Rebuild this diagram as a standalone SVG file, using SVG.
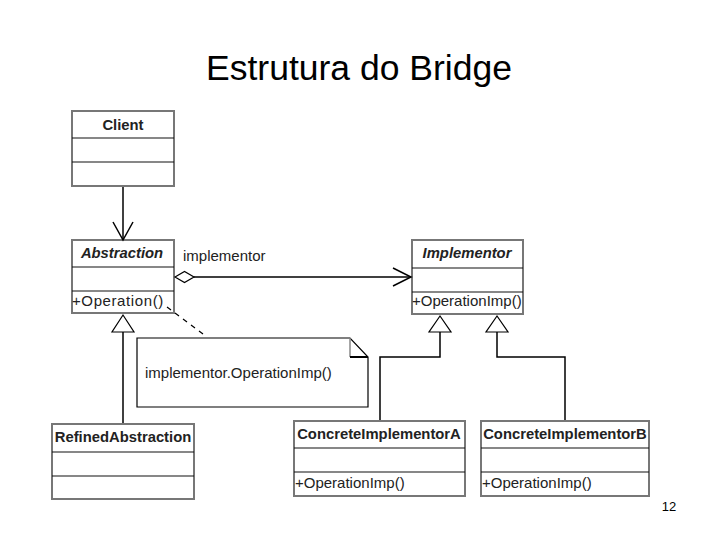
<svg xmlns="http://www.w3.org/2000/svg" width="720" height="540" viewBox="0 0 720 540">
<style>
.box{fill:#fff;stroke:#777;stroke-width:2}
.div{stroke:#111;stroke-width:1.2}
.hdr{font-family:"Liberation Sans",Arial,sans-serif;font-size:14.8px;font-weight:bold;fill:#222}
.it{font-style:italic}
.op{font-family:"Liberation Sans",Arial,sans-serif;font-size:15px;fill:#222}
.ln{fill:none;stroke:#000;stroke-width:1.5}
</style>
<rect width="720" height="540" fill="#fff"/>
<text x="359" y="80" text-anchor="middle" font-family="Liberation Sans,Arial,sans-serif" font-size="35.5" fill="#000">Estrutura do Bridge</text>
<g id="client">
<rect class="box" x="72" y="111" width="102" height="75"/>
<line class="div" x1="72" y1="138" x2="174" y2="138"/>
<line class="div" x1="72" y1="162" x2="174" y2="162"/>
<text class="hdr" x="123" y="130" text-anchor="middle">Client</text>
</g>
<g id="abstraction">
<rect class="box" x="72" y="240" width="102" height="73"/>
<line class="div" x1="72" y1="267" x2="174" y2="267"/>
<line class="div" x1="72" y1="291" x2="174" y2="291"/>
<text class="hdr it" x="122" y="258" text-anchor="middle">Abstraction</text>
<text class="op" x="72" y="306" letter-spacing="0.6">+Operation()</text>
</g>
<text class="op" x="183" y="261" fill="#333" font-size="14.6">implementor</text>
<g id="implementor">
<rect class="box" x="412" y="240" width="111" height="74"/>
<line class="div" x1="412" y1="268" x2="523" y2="268"/>
<line class="div" x1="412" y1="292" x2="523" y2="292"/>
<text class="hdr it" x="467" y="258" text-anchor="middle">Implementor</text>
<text class="op" x="412" y="306">+OperationImp()</text>
</g>
<g id="note">
<path d="M137,338 H350 L368,357 V407 H137 Z" fill="#fff" stroke="#000" stroke-width="1.2"/>
<path d="M350,338 V357" stroke="#888" stroke-width="1.5" fill="none"/>
<path d="M350,357 H368" stroke="#000" stroke-width="2" fill="none"/>
<text class="op" x="145" y="378" fill="#333">implementor.OperationImp()</text>
</g>
<g id="refinedAbstraction">
<rect class="box" x="52" y="424" width="142" height="75"/>
<line class="div" x1="52" y1="452" x2="194" y2="452"/>
<line class="div" x1="52" y1="476" x2="194" y2="476"/>
<text class="hdr" x="123" y="442" text-anchor="middle">RefinedAbstraction</text>
</g>
<g id="concreteImplementorA">
<rect class="box" x="294" y="421" width="171" height="75"/>
<line class="div" x1="294" y1="448" x2="465" y2="448"/>
<line class="div" x1="294" y1="472" x2="465" y2="472"/>
<text class="hdr" x="379" y="439" text-anchor="middle">ConcreteImplementorA</text>
<text class="op" x="295" y="488">+OperationImp()</text>
</g>
<g id="concreteImplementorB">
<rect class="box" x="481" y="421" width="168" height="75"/>
<line class="div" x1="481" y1="448" x2="649" y2="448"/>
<line class="div" x1="481" y1="472" x2="649" y2="472"/>
<text class="hdr" x="565" y="439" text-anchor="middle">ConcreteImplementorB</text>
<text class="op" x="482" y="488">+OperationImp()</text>
</g>
<g id="connectors">
<line class="ln" x1="123" y1="187" x2="123" y2="239" stroke-width="2"/>
<polyline class="ln" points="113,222 123,240 133,222"/>
<line class="ln" x1="194" y1="277" x2="411" y2="277"/>
<polygon points="175,277 184.5,271.5 194,277 184.5,282.5" fill="#fff" stroke="#000" stroke-width="1.2"/>
<polyline class="ln" points="393,268 411,277 393,286"/>
<line x1="167" y1="307" x2="207" y2="337" stroke="#000" stroke-width="1.2" stroke-dasharray="5,5"/>
<line class="ln" x1="123" y1="332" x2="123" y2="423" stroke-width="2"/>
<polygon points="123,315 112,332 134,332" fill="#fff" stroke="#000" stroke-width="1.2"/>
<polyline class="ln" points="440,332 440,357 380,357 380,420" stroke-width="1.6"/>
<polygon points="440,316 429,332 451,332" fill="#fff" stroke="#000" stroke-width="1.2"/>
<polyline class="ln" points="497,332 497,357 565,357 565,420" stroke-width="1.3"/>
<polygon points="497,316 486,332 508,332" fill="#fff" stroke="#000" stroke-width="1.2"/>
</g>
<text x="669" y="511" text-anchor="middle" font-family="Liberation Sans,Arial,sans-serif" font-size="13" fill="#000">12</text>
</svg>
